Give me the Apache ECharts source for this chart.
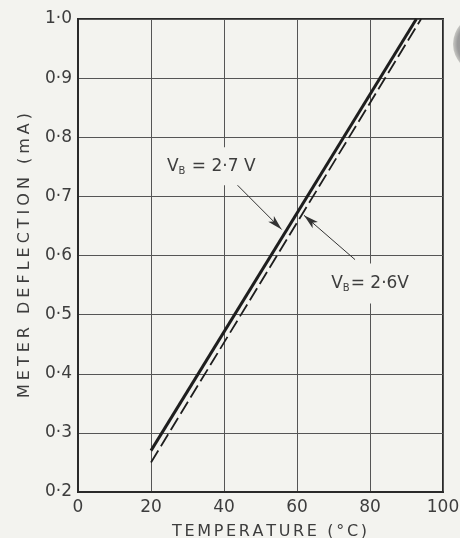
<!DOCTYPE html>
<html><head><meta charset="utf-8">
<script src="https://cdn.jsdelivr.net/npm/echarts@6/dist/echarts.min.js"></script>
<style>html,body{margin:0;padding:0;background:#f3f3ef}#c{width:460px;height:538px}</style>
</head><body><div id="c"></div>
<script>
const xTicks = [0, 20, 40, 60, 80, 100];
const yTickLabels = ['0·2', '0·3', '0·4', '0·5', '0·6', '0·7', '0·8', '0·9', '1·0'];
const solid27 = [[20, 0.27], [92.7, 1.0]];
const dashed26 = [[20, 0.25], [94, 1.0]];
const arrow27 = [[43.2, 0.722], [55.8, 0.644]];
const arrow26 = [[75.9, 0.593], [61.9, 0.668]];
const label27 = [41.3, 0.751];
const label26 = [80.3, 0.5525];
const xName = 'TEMPERATURE (°C)';
const yName = 'METER DEFLECTION (mA)';

const FONT = 'DejaVu Sans';
const TXT = '#3d3d3d';
const BG = '#f3f3ef';
const spaced = (s, sp) => s.split('').join(sp);

const chart = echarts.init(document.getElementById('c'));
const rich = {
  a: { fontSize: 17, color: TXT, fontFamily: FONT },
  b: { fontSize: 10, color: TXT, fontFamily: FONT, padding: [10, 1, 0, 0] }
};
chart.setOption({
  backgroundColor: BG,
  animation: false,
  grid: { left: 78, right: 17, top: 19, bottom: 46, outerBoundsMode: 'none', containLabel: false,
    show: true, borderColor: '#2a2a2a', borderWidth: 2, backgroundColor: BG },
  xAxis: {
    type: 'value', min: 0, max: 100, interval: 20,
    name: spaced(xName, '\u2006'), nameLocation: 'middle', nameGap: 32,
    nameTextStyle: { fontSize: 16, color: TXT, fontFamily: FONT, padding: [0, 0, 0, 18] },
    axisLine: { show: true, lineStyle: { color: '#2a2a2a', width: 2 } },
    axisTick: { show: false },
    axisLabel: { fontSize: 17, color: TXT, fontFamily: FONT, margin: 7, formatter: v => String(v) },
    splitLine: { show: true, lineStyle: { color: '#555', width: 1 } }
  },
  yAxis: {
    type: 'value', min: 0.2, max: 1.0, interval: 0.1,
    name: spaced(yName, '\u2005'), nameLocation: 'middle', nameGap: 45,
    nameTextStyle: { fontSize: 16, color: TXT, fontFamily: FONT },
    axisLine: { show: true, lineStyle: { color: '#2a2a2a', width: 2 } },
    axisTick: { show: false },
    axisLabel: { fontSize: 17, color: TXT, fontFamily: FONT, margin: 6,
      formatter: v => yTickLabels[Math.round((v - 0.2) * 10)] },
    splitLine: { show: true, lineStyle: { color: '#555', width: 1 } }
  },
  series: [
    {
      type: 'line', data: solid27, symbol: 'none',
      lineStyle: { color: '#1e1e1e', width: 3 },
      markLine: {
        silent: true, symbol: ['none', 'arrow'], symbolSize: [6, 15],
        label: { show: false },
        lineStyle: { color: '#333', width: 1, type: 'solid' },
        data: [
          [{ coord: arrow27[0] }, { coord: arrow27[1] }],
          [{ coord: arrow26[0] }, { coord: arrow26[1] }]
        ]
      },
      markPoint: {
        symbol: 'rect', symbolSize: 0, silent: true,
        data: [
          { coord: label27, label: { show: true, position: 'inside', formatter: '{a|V}{b|B}{a| = 2·7 V}', rich: rich,
            backgroundColor: BG, padding: [9, 38, 9, 3] } },
          { coord: label26, label: { show: true, position: 'inside', formatter: '{a|V}{b|B}{a|= 2·6V}', rich: rich,
            backgroundColor: BG, padding: [10, 22, 10, 20] } }
        ]
      }
    },
    {
      type: 'line', data: dashed26, symbol: 'none',
      lineStyle: { color: '#1e1e1e', width: 1.8, type: [14, 5] }
    }
  ],
  graphic: [
    { type: 'circle', shape: { cx: 482, cy: 44, r: 29 }, style: {
      fill: new echarts.graphic.RadialGradient(0.5, 0.5, 0.5, [
        { offset: 0, color: '#8a8a8a' }, { offset: 0.85, color: '#9c9c9c' }, { offset: 1, color: '#c8c8c4' }]) } }
  ]
});
</script></body></html>
